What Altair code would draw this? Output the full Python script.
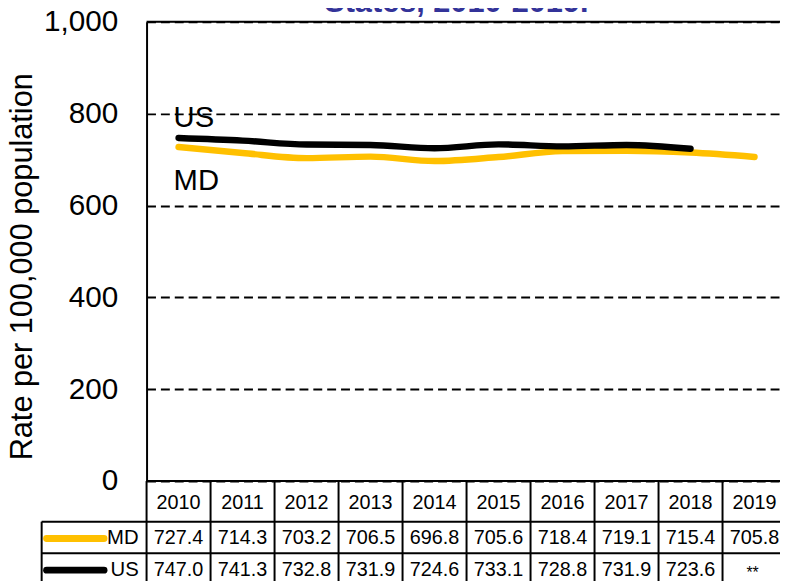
import altair as alt
import pandas as pd

FONT = "Liberation Sans"

# ---- data ----
years = [2010, 2011, 2012, 2013, 2014, 2015, 2016, 2017, 2018, 2019]
md_values = [727.4, 714.3, 703.2, 706.5, 696.8, 705.6, 718.4, 719.1, 715.4, 705.8]
us_values = [747.0, 741.3, 732.8, 731.9, 724.6, 733.1, 728.8, 731.9, 723.6, None]
series_names = ["MD", "US"]
series_colors = ["#FFC000", "#000000"]
label_names = ["US", "MD"]
label_years = [2010, 2010]
label_values = [791, 654]
y_ticks = [0, 200, 400, 600, 800, 1000]
y_title = "Rate per 100,000 population"
title_text = "States, 2010-2019."
missing_text = "**"

# ---- tables ----
rows = []
for name, vals in zip(series_names, [md_values, us_values]):
    for yr, v in zip(years, vals):
        if v is not None:
            rows.append({"year": yr, "value": v, "series": name})
lines_df = pd.DataFrame(rows)

labels_df = pd.DataFrame({"year": label_years, "value": label_values, "label": label_names})
header_df = pd.DataFrame({"year": years, "label": [str(y) for y in years]})
bounds_df = pd.DataFrame({"b": [y - 0.5 for y in years] + [years[-1] + 0.5]})

W, H = 640, 464
ROW_HDR, ROW_MD, ROW_US = 486, 522, 554
LINE1, LINE2, BOTTOM = 505, 537, 600
LEG_LEFT = -106
EXT = W + 20

xscale = alt.Scale(domain=[2009.5, 2019.398], nice=False, zero=False)
yscale = alt.Scale(domain=[0, 1000], nice=False)
X = alt.X("year:Q", scale=xscale, axis=None)

yaxis = alt.Axis(
    values=y_ticks, format=",d", grid=True, gridDash=[9, 5], gridColor="black",
    gridWidth=2, gridOpacity=1, domainColor="black", domainWidth=2, ticks=False, tickSize=0,
    labelFontSize=30, labelPadding=29, labelFont=FONT, labelColor="black",
    title=y_title, titleFontSize=31, titleFont=FONT, titleFontWeight="normal",
    titleColor="black", titleX=-125, titleY=247, titleAngle=-90,
    titleAlign="center", titleBaseline="middle",
)
Y = alt.Y("value:Q", scale=yscale, axis=yaxis)

color = alt.Color("series:N", scale=alt.Scale(domain=series_names, range=series_colors), legend=None)

lines = alt.Chart(lines_df).mark_line(
    strokeWidth=6.5, strokeCap="round", strokeJoin="round", interpolate="monotone"
).encode(x=X, y=Y, color=color, order=alt.Order("year:Q"))

series_labels = alt.Chart(labels_df).mark_text(
    align="left", baseline="middle", dx=-5, fontSize=29.5, font=FONT, color="black"
).encode(x=X, y=Y, text="label:N")

frame_df = pd.DataFrame({"k": [0]})
top_rule = alt.Chart(frame_df).mark_rule(color="black", strokeWidth=2).encode(
    x=alt.value(0), x2=alt.value(EXT), y=alt.value(0))
bottom_rule = alt.Chart(frame_df).mark_rule(color="black", strokeWidth=2).encode(
    x=alt.value(0), x2=alt.value(EXT), y=alt.value(H))
row_rule1 = alt.Chart(frame_df).mark_rule(color="black", strokeWidth=2).encode(
    x=alt.value(LEG_LEFT), x2=alt.value(EXT), y=alt.value(LINE1))
row_rule2 = alt.Chart(frame_df).mark_rule(color="black", strokeWidth=2).encode(
    x=alt.value(LEG_LEFT), x2=alt.value(EXT), y=alt.value(LINE2))
leg_left = alt.Chart(frame_df).mark_rule(color="black", strokeWidth=2).encode(
    x=alt.value(LEG_LEFT), y=alt.value(LINE1), y2=alt.value(BOTTOM))

col_rules = alt.Chart(bounds_df).mark_rule(color="black", strokeWidth=2).encode(
    x=alt.X("b:Q", scale=xscale, axis=None), y=alt.value(H), y2=alt.value(BOTTOM))

header = alt.Chart(header_df).mark_text(
    fontSize=20, font=FONT, color="black", baseline="middle", align="center"
).encode(x=X, y=alt.value(ROW_HDR), text="label:N")

layers = [lines, series_labels, top_rule, bottom_rule, row_rule1, row_rule2, leg_left, col_rules, header]

for name, col, vals, ry in zip(series_names, series_colors, [md_values, us_values], [ROW_MD, ROW_US]):
    vdf = pd.DataFrame({"year": [y for y, v in zip(years, vals) if v is not None],
                        "label": [f"{v:.1f}" for v in vals if v is not None]})
    layers.append(alt.Chart(vdf).mark_text(
        fontSize=20, font=FONT, color="black", baseline="middle", align="center"
    ).encode(x=X, y=alt.value(ry), text="label:N"))
    mdf = pd.DataFrame({"year": [y for y, v in zip(years, vals) if v is None],
                        "label": [missing_text for v in vals if v is None]})
    if len(mdf):
        layers.append(alt.Chart(mdf).mark_text(
            fontSize=16, font=FONT, color="black", baseline="alphabetic", align="center", dx=-2
        ).encode(x=X, y=alt.value(ry + 8), text="label:N"))
    sdf = pd.DataFrame({"series": [name]})
    layers.append(alt.Chart(sdf).mark_rule(strokeWidth=7, strokeCap="round", color=col).encode(
        x=alt.value(LEG_LEFT + 5), x2=alt.value(-43), y=alt.value(ry)))
    layers.append(alt.Chart(sdf).mark_text(
        fontSize=20.5, font=FONT, color="black", baseline="middle", align="right"
    ).encode(x=alt.value(-8), y=alt.value(ry), text="series:N"))

tdf = pd.DataFrame({"t": [title_text]})
layers.append(alt.Chart(tdf).mark_text(
    fontSize=31, font=FONT, fontWeight="bold", color="#333399", align="center", baseline="alphabetic"
).encode(x=alt.value(313), y=alt.value(-10), text="t:N"))

chart = alt.layer(*layers).properties(
    width=W, height=H,
    autosize=alt.AutoSizeParams(type="none"),
    padding={"left": 140, "top": 11, "right": 0, "bottom": 98},
).configure_view(stroke=None).configure(background="white")

chart.save("out.html", embed_options={"renderer": "svg", "actions": False})
